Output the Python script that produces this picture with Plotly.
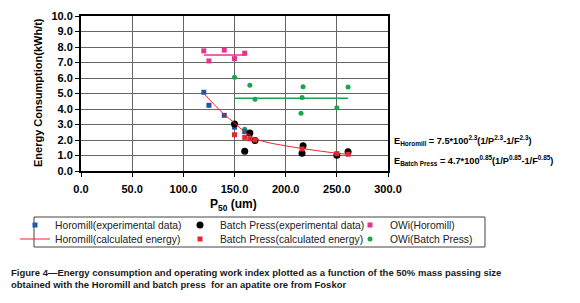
import plotly.graph_objects as go

# ---- data ----
hm_exp_x = [120, 125, 140, 150, 160]
hm_exp_y = [5.08, 4.24, 3.59, 2.83, 2.54]

bp_exp_x = [150, 160, 165, 170, 216, 217, 250, 261]
bp_exp_y = [3.03, 1.27, 2.45, 1.96, 1.14, 1.63, 1.01, 1.25]

hm_calc_x = [120, 130, 140, 150, 160, 170, 180, 195, 205, 215, 230, 250, 261]
hm_calc_y = [5.0, 4.3, 3.65, 3.1, 2.52, 2.1, 1.88, 1.68, 1.57, 1.46, 1.32, 1.15, 1.08]

bp_calc_x = [150, 160, 165, 170, 216, 250, 261]
bp_calc_y = [2.34, 2.17, 2.08, 2.0, 1.42, 1.12, 1.08]

owi_hm_x = [120, 125, 140, 150, 160]
owi_hm_y = [7.75, 7.1, 7.8, 7.25, 7.6]
owi_hm_line_x = [120, 161]
owi_hm_line_y = [7.48, 7.48]

owi_bp_x = [150, 160, 165, 170, 215, 216, 217, 250, 261]
owi_bp_y = [6.05, 2.7, 5.53, 4.63, 3.72, 4.75, 5.44, 4.08, 5.42]
owi_bp_line_x = [150, 261]
owi_bp_line_y = [4.7, 4.7]

x_ticks = [0, 50, 100, 150, 200, 250, 300]
y_ticks = [0, 1, 2, 3, 4, 5, 6, 7, 8, 9, 10]

BLUE = "#1c5aa8"
RED = "#e8262d"
PINK = "#e8338c"
GREEN = "#19a64b"

W, H = 580, 303
L, R, T, B = 81, 192, 16, 132
PW, PH = W - L - R, H - T - B

def px2paper_x(px):
    return (px - L) / PW

def py2paper_y(py):
    return (H - B - py) / PH

fig = go.Figure()

# OWi lines (background)
fig.add_trace(go.Scatter(x=owi_hm_line_x, y=owi_hm_line_y, mode="lines",
                         line=dict(color=PINK, width=1.5), showlegend=False, hoverinfo="skip"))
fig.add_trace(go.Scatter(x=owi_bp_line_x, y=owi_bp_line_y, mode="lines",
                         line=dict(color=GREEN, width=1.5), showlegend=False, hoverinfo="skip"))

fig.add_trace(go.Scatter(x=owi_hm_x, y=owi_hm_y, mode="markers", name="OWi(Horomill)",
                         marker=dict(symbol="square", size=5, color=PINK), legend="legend3"))
fig.add_trace(go.Scatter(x=owi_bp_x, y=owi_bp_y, mode="markers", name="OWi(Batch Press)",
                         marker=dict(symbol="circle", size=5, color=GREEN), legend="legend6"))

fig.add_trace(go.Scatter(x=hm_exp_x, y=hm_exp_y, mode="markers", name="Horomill(experimental data)",
                         marker=dict(symbol="square", size=5, color=BLUE), legend="legend"))
fig.add_trace(go.Scatter(x=bp_exp_x, y=bp_exp_y, mode="markers", name="Batch Press(experimental data)",
                         marker=dict(symbol="circle", size=7, color="black"), legend="legend2"))
fig.add_trace(go.Scatter(x=hm_calc_x, y=hm_calc_y, mode="lines", name="Horomill(calculated energy)",
                         line=dict(color=RED, width=1, shape="spline"), legend="legend4"))
fig.add_trace(go.Scatter(x=bp_calc_x, y=bp_calc_y, mode="markers", name="Batch Press(calculated energy)",
                         marker=dict(symbol="square", size=5, color=RED), legend="legend5"))

# ---- legends: 6 single-item legends laid out as 2 rows x 3 columns ----
leg_font = dict(family="Liberation Sans, Arial, sans-serif", size=10.3, color="#222")
col_text_px = [55, 220, 390]
row_py = [225, 239]
legends = {}
names = ["legend", "legend2", "legend3", "legend4", "legend5", "legend6"]
for i, nm in enumerate(names):
    r, c = divmod(i, 3)
    legends[nm] = dict(
        x=(col_text_px[c] - 40) / W, y=1 - row_py[r] / H,
        xref="container", yref="container",
        xanchor="left", yanchor="middle",
        bgcolor="rgba(0,0,0,0)", borderwidth=0,
        font=leg_font, itemwidth=30,
    )

fig.update_layout(**legends)

# legend frame
fig.add_shape(type="rect", xref="paper", yref="paper",
              x0=px2paper_x(34), x1=px2paper_x(485), y0=py2paper_y(247), y1=py2paper_y(217),
              line=dict(color="#444", width=1), fillcolor="rgba(0,0,0,0)", layer="above")

tick_font = dict(family="Liberation Sans, Arial, sans-serif", size=11, color="black", weight="bold")

fig.update_xaxes(range=[0, 300], tickvals=x_ticks, ticktext=[f"{v:.1f}" for v in x_ticks],
                 showgrid=True, gridcolor="#666", gridwidth=1,
                 showline=True, linecolor="black", linewidth=2, mirror=True,
                 ticks="outside", ticklen=4, tickcolor="black", tickfont=tick_font,
                 ticklabelstandoff=3, zeroline=False)
fig.update_yaxes(range=[0, 10], tickvals=y_ticks, ticktext=[f"{v:.1f}" for v in y_ticks],
                 showgrid=True, gridcolor="#666", gridwidth=1,
                 showline=True, linecolor="black", linewidth=2, mirror=True,
                 ticks="outside", ticklen=4, tickcolor="black", tickfont=tick_font,
                 zeroline=False)

title_font = dict(family="Liberation Sans, Arial, sans-serif", size=11, color="black", weight="bold")
fig.add_annotation(text="Energy Consumption(kWh/t)", textangle=-90, xref="paper", yref="paper",
                   x=px2paper_x(38), y=py2paper_y(93), showarrow=False, font=title_font,
                   xanchor="center", yanchor="middle")
fig.add_annotation(text="P<sub>50</sub> (um)", xref="paper", yref="paper",
                   x=px2paper_x(233), y=py2paper_y(205), showarrow=False,
                   font=dict(family="Liberation Sans, Arial, sans-serif", size=12, color="black", weight="bold"),
                   xanchor="center", yanchor="middle")

eq_font = dict(family="Liberation Sans, Arial, sans-serif", size=9.2, color="black", weight="bold")
fig.add_annotation(text="E<sub>Horomill</sub> = 7.5*100<sup>2.3</sup>(1/P<sup>2.3</sup>-1/F<sup>2.3</sup>)",
                   xref="paper", yref="paper", x=px2paper_x(392), y=py2paper_y(140),
                   showarrow=False, font=eq_font, xanchor="left", yanchor="middle")
fig.add_annotation(text="E<sub>Batch Press</sub> = 4.7*100<sup>0.85</sup>(1/P<sup>0.85</sup>-1/F<sup>0.85</sup>)",
                   xref="paper", yref="paper", x=px2paper_x(392), y=py2paper_y(160),
                   showarrow=False, font=eq_font, xanchor="left", yanchor="middle")

cap_font = dict(family="Liberation Sans, Arial, sans-serif",
                size=9.5, color="#1a1a1a", weight="bold")
fig.add_annotation(text="Figure 4\u2014Energy consumption and operating work index plotted as a function of the 50% mass passing size<br>"
                        "obtained with the Horomill and batch press  for an apatite ore from Foskor",
                   xref="paper", yref="paper", x=px2paper_x(9), y=py2paper_y(265),
                   showarrow=False, font=cap_font, xanchor="left", yanchor="top", align="left")

fig.update_layout(width=W, height=H, margin=dict(l=L, r=R, t=T, b=B, autoexpand=False),
                  paper_bgcolor="white", plot_bgcolor="white", showlegend=True)

fig.write_html("out.html", config={"displayModeBar": False},
               post_script="document.body.style.margin='0';")
